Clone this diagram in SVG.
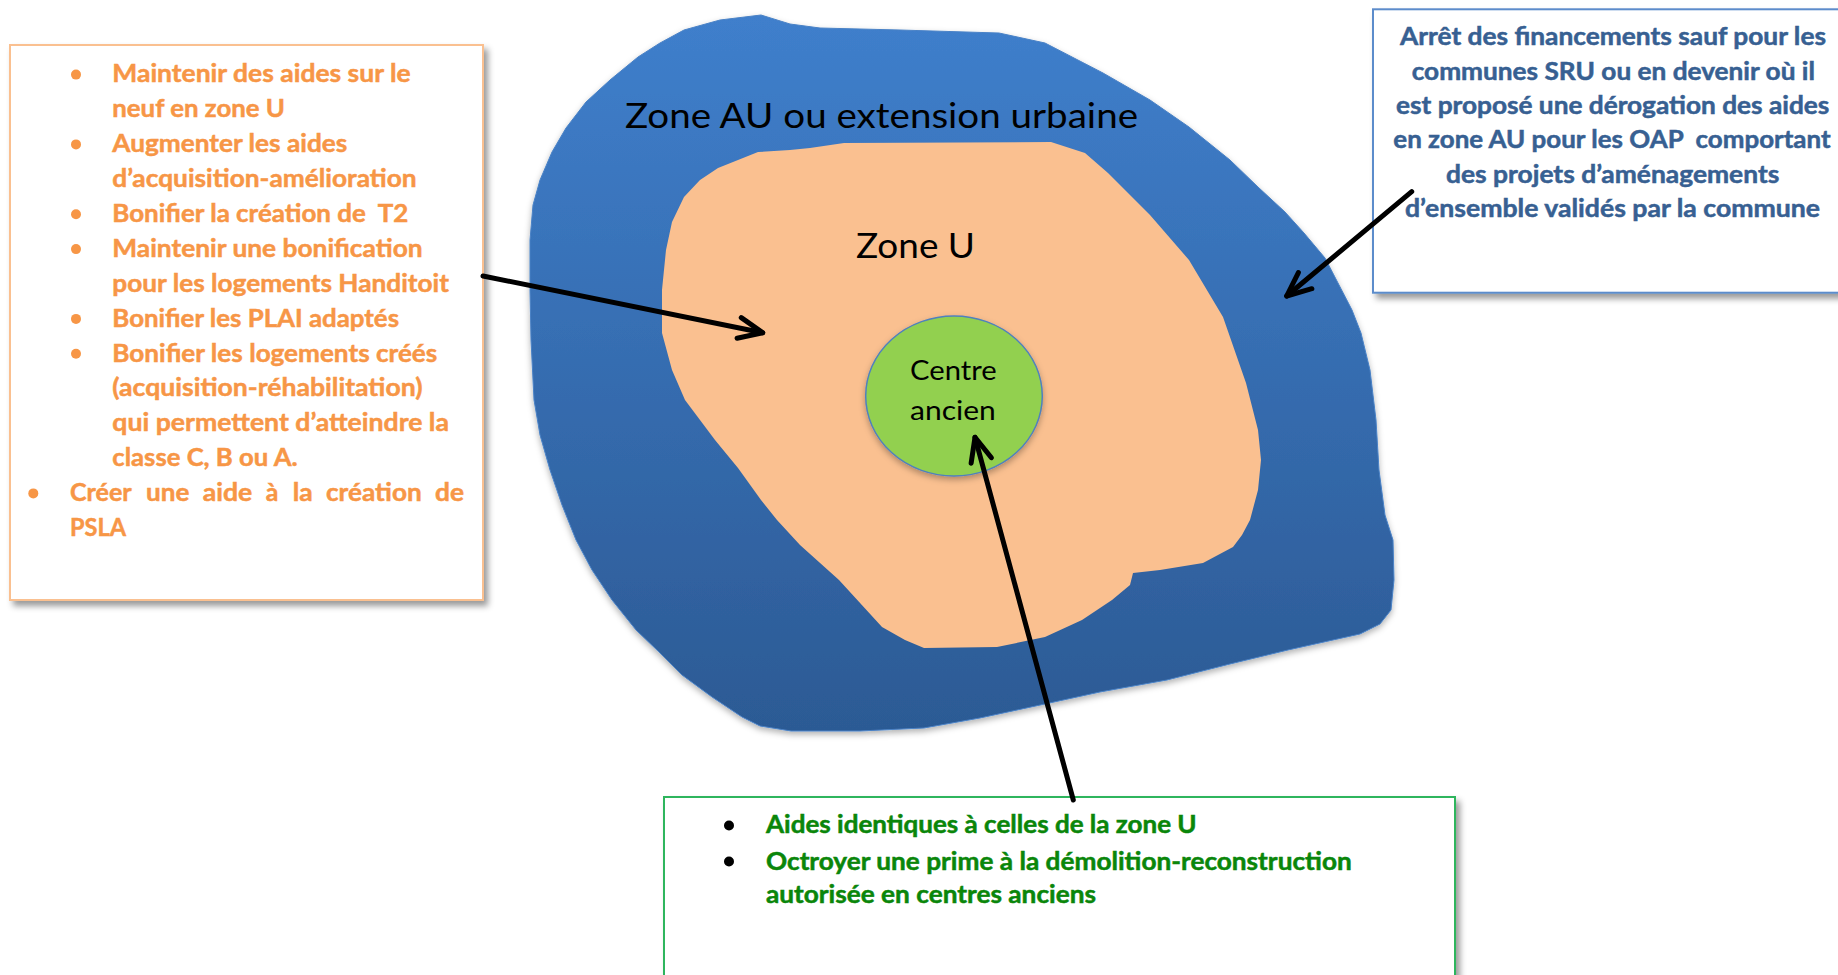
<svg xmlns="http://www.w3.org/2000/svg" width="1838" height="975" viewBox="0 0 1838 975">
<style>
.lt{font-family:Lato,"Open Sans","Liberation Sans",sans-serif;font-weight:700;font-size:25.5px;fill:#F79646;stroke:#F79646;stroke-width:0.5px}
.rt{font-family:Lato,"Open Sans","Liberation Sans",sans-serif;font-weight:700;font-size:24px;fill:#376092;stroke:#376092;stroke-width:0.5px}
.gt{font-family:Lato,"Open Sans","Liberation Sans",sans-serif;font-weight:700;font-size:24px;fill:#0A860A;stroke:#0A860A;stroke-width:0.5px}
.zl{font-family:Lato,"Open Sans","Liberation Sans",sans-serif;font-weight:400;fill:#000}
.conn{fill:none;stroke:#000;stroke-width:5;stroke-linecap:round}
</style>
<defs>
<linearGradient id="gBlue" x1="0" y1="0" x2="0" y2="1">
<stop offset="0" stop-color="#3F7FCC"/>
<stop offset="1" stop-color="#2C5A94"/>
</linearGradient>
<filter id="sh" x="-10%" y="-10%" width="130%" height="130%">
<feDropShadow dx="4" dy="5" stdDeviation="3" flood-color="#000" flood-opacity="0.4"/>
</filter>
<filter id="shs" x="-10%" y="-10%" width="130%" height="130%">
<feDropShadow dx="0" dy="3" stdDeviation="3" flood-color="#000" flood-opacity="0.3"/>
</filter>
<marker id="arr" markerUnits="userSpaceOnUse" markerWidth="40" markerHeight="40" viewBox="-34 -20 40 40" refX="0" refY="0" orient="auto" overflow="visible">
<path d="M-24,-10.5 L0,0 L-24,10.5" fill="none" stroke="#000" stroke-width="5" stroke-linecap="round" stroke-linejoin="round"/>
</marker>
</defs>
<rect width="1838" height="975" fill="#fff"/>

<g id="zone-au">
<path filter="url(#shs)" fill="url(#gBlue)" stroke="#4A82C6" stroke-width="1" d="M761,15 L790,24 L820,28 L900,30 L999,33 L1045,43 L1103,73 L1150,100 L1189,127 L1230,160 L1258,187 L1285,212 L1304,233 L1325,258 L1338,283 L1352,310 L1361,333 L1370,370 L1376,420 L1379,470 L1385,515 L1393,540 L1394,580 L1391,610 L1380,624 L1360,634 L1288,650 L1230,664 L1167,680 L1100,692 L1045,704 L980,718 L924,728 L860,731 L791,731 L760,726 L742,717 L712,697 L682,675 L660,653 L636,630 L612,600 L592,570 L576,540 L562,505 L550,470 L540,435 L534,400 L531,340 L530,290 L530,240 L533,205 L540,180 L552,152 L566,128 L586,102 L610,80 L638,57 L660,43 L684,30 L720,20 Z"/>
<text class="zl" x="625" y="128.3" font-size="33.8" textLength="513" lengthAdjust="spacingAndGlyphs">Zone AU ou extension urbaine</text>
</g>

<g id="zone-u">
<path fill="#FAC090" d="M758,152 L790,150 L810,148 L844,143 L1051,142 L1085,153 L1108,173 L1150,215 L1189,260 L1223,317 L1246,383 L1258,430 L1261,460 L1258,490 L1250,520 L1242,535 L1233,547 L1203,563 L1160,570 L1133,573 L1130,585 L1112,600 L1082,620 L1045,637 L997,647 L924,648 L905,640 L882,627 L839,580 L800,545 L777,520 L761,500 L738,468 L715,440 L700,420 L685,400 L672,370 L662,333 L662,290 L666,250 L672,222 L684,197 L700,180 L718,168 Z"/>
<text class="zl" x="856" y="258.3" font-size="34.7" textLength="119" lengthAdjust="spacingAndGlyphs">Zone U</text>
</g>

<g id="centre-ancien">
<ellipse cx="954" cy="396" rx="88.3" ry="80" fill="#92D050" stroke="#4F81BD" stroke-width="1.5" filter="url(#shs)"/>
<text class="zl" x="910" y="380" font-size="27.8" textLength="86.7" lengthAdjust="spacingAndGlyphs">Centre</text>
<text class="zl" x="910" y="420" font-size="27.8" textLength="85.7" lengthAdjust="spacingAndGlyphs">ancien</text>
</g>

<g id="box-left">
<rect x="10" y="45" width="473" height="555" fill="#fff" stroke="#FAC090" stroke-width="2" filter="url(#sh)"/>
<g fill="#F79646">
<circle cx="76" cy="74.6" r="5"/>
<circle cx="76" cy="144.4" r="5"/>
<circle cx="76" cy="214.2" r="5"/>
<circle cx="76" cy="249.1" r="5"/>
<circle cx="76" cy="318.9" r="5"/>
<circle cx="76" cy="353.8" r="5"/>
<circle cx="33.3" cy="493.4" r="5"/>
</g>
<text class="lt" x="112.3" y="82.3" textLength="298.3" lengthAdjust="spacingAndGlyphs">Maintenir des aides sur le</text>
<text class="lt" x="112.3" y="117.2" textLength="172.7" lengthAdjust="spacingAndGlyphs">neuf en zone U</text>
<text class="lt" x="112.3" y="152.1" textLength="235" lengthAdjust="spacingAndGlyphs">Augmenter les aides</text>
<text class="lt" x="112.3" y="187" textLength="304.3" lengthAdjust="spacingAndGlyphs">d’acquisition-amélioration</text>
<text class="lt" x="112.3" y="221.9" textLength="296" lengthAdjust="spacingAndGlyphs" xml:space="preserve">Bonifier la création de  T2</text>
<text class="lt" x="112.3" y="256.8" textLength="310.3" lengthAdjust="spacingAndGlyphs">Maintenir une bonification</text>
<text class="lt" x="112.3" y="291.7" textLength="336.7" lengthAdjust="spacingAndGlyphs">pour les logements Handitoit</text>
<text class="lt" x="112.3" y="326.6" textLength="286.7" lengthAdjust="spacingAndGlyphs">Bonifier les PLAI adaptés</text>
<text class="lt" x="112.3" y="361.5" textLength="325" lengthAdjust="spacingAndGlyphs">Bonifier les logements créés</text>
<text class="lt" x="112.3" y="396.4" textLength="310.3" lengthAdjust="spacingAndGlyphs">(acquisition-réhabilitation)</text>
<text class="lt" x="112.3" y="431.3" textLength="336.7" lengthAdjust="spacingAndGlyphs">qui permettent d’atteindre la</text>
<text class="lt" x="112.3" y="466.2" textLength="185.3" lengthAdjust="spacingAndGlyphs">classe C, B ou A.</text>
<text class="lt" y="501.1"><tspan x="70" textLength="61.7" lengthAdjust="spacingAndGlyphs">Créer</tspan><tspan x="146" textLength="43.3" lengthAdjust="spacingAndGlyphs">une</tspan><tspan x="202.7" textLength="49.6" lengthAdjust="spacingAndGlyphs">aide</tspan><tspan x="265.7" textLength="12.6" lengthAdjust="spacingAndGlyphs">à</tspan><tspan x="292.7" textLength="20" lengthAdjust="spacingAndGlyphs">la</tspan><tspan x="326" textLength="95.7" lengthAdjust="spacingAndGlyphs">création</tspan><tspan x="435" textLength="29" lengthAdjust="spacingAndGlyphs">de</tspan></text>
<text class="lt" x="70" y="536" textLength="56" lengthAdjust="spacingAndGlyphs">PSLA</text>
</g>

<g id="box-right">
<rect x="1373" y="9.3" width="480" height="283.4" fill="#fff" stroke="#5B8CCB" stroke-width="2" filter="url(#sh)"/>
<text class="rt" x="1400" y="45" textLength="426" lengthAdjust="spacingAndGlyphs">Arrêt des financements sauf pour les</text>
<text class="rt" x="1411.7" y="80" textLength="403.3" lengthAdjust="spacingAndGlyphs">communes SRU ou en devenir où il</text>
<text class="rt" x="1396" y="114.3" textLength="433.3" lengthAdjust="spacingAndGlyphs">est proposé une dérogation des aides</text>
<text class="rt" x="1393.3" y="148.3" textLength="437.3" lengthAdjust="spacingAndGlyphs" xml:space="preserve">en zone AU pour les OAP  comportant</text>
<text class="rt" x="1446" y="182.7" textLength="333.3" lengthAdjust="spacingAndGlyphs">des projets d’aménagements</text>
<text class="rt" x="1405" y="216.7" textLength="415" lengthAdjust="spacingAndGlyphs">d’ensemble validés par la commune</text>
</g>

<g id="box-bottom">
<rect x="664" y="797" width="791" height="200" fill="#fff" stroke="#2DB55D" stroke-width="2" filter="url(#sh)"/>
<circle cx="729" cy="825.5" r="5" fill="#000"/>
<circle cx="729" cy="861.5" r="5" fill="#000"/>
<text class="gt" x="766" y="833.3" textLength="430.7" lengthAdjust="spacingAndGlyphs">Aides identiques à celles de la zone U</text>
<text class="gt" x="766" y="869.5" textLength="585.7" lengthAdjust="spacingAndGlyphs">Octroyer une prime à la démolition-reconstruction</text>
<text class="gt" x="766" y="903" textLength="330" lengthAdjust="spacingAndGlyphs">autorisée en centres anciens</text>
</g>

<g id="connectors">
<path class="conn" d="M483,276 L762.7,332.7" marker-end="url(#arr)"/>
<path class="conn" d="M1411.7,191.7 L1286.7,296" marker-end="url(#arr)"/>
<path class="conn" d="M1073.3,800 L975,437.3" marker-end="url(#arr)"/>
</g>
</svg>
